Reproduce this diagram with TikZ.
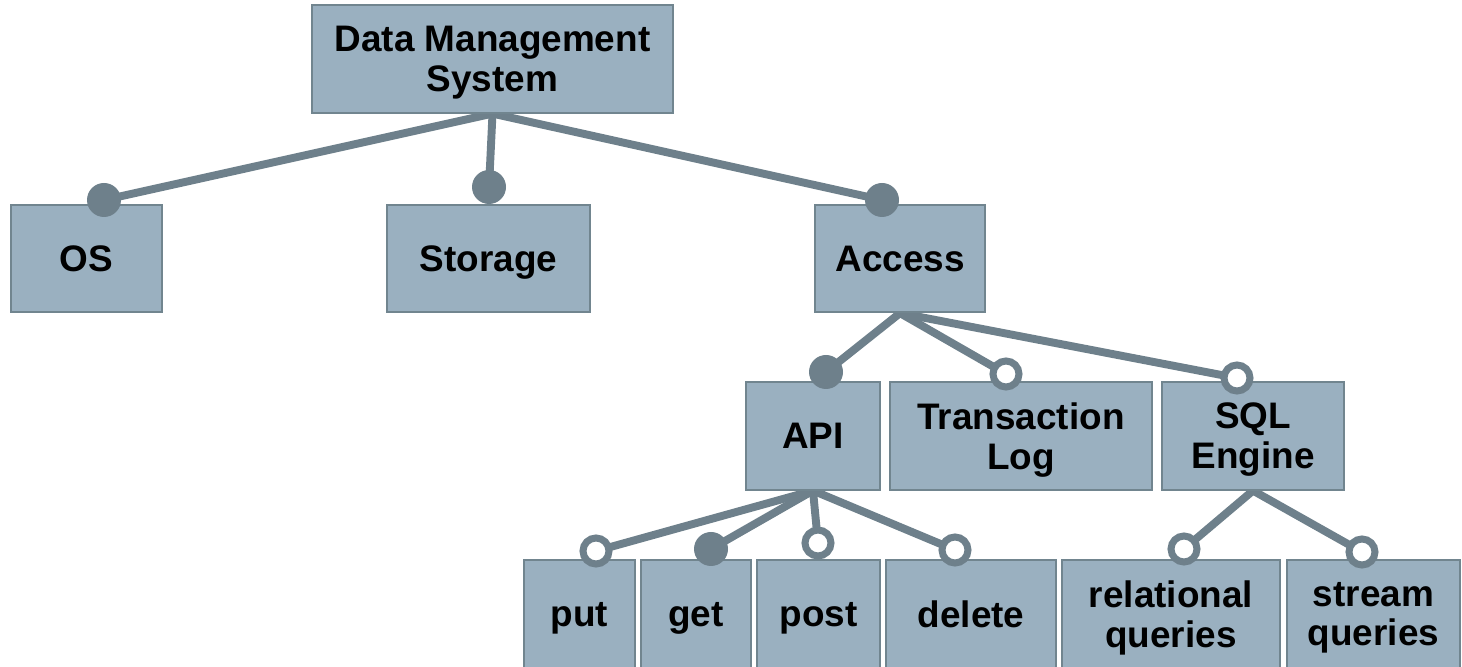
\documentclass[tikz,border=0pt]{standalone}
\usepackage{fontspec}
\setmainfont{Liberation Sans}
\usetikzlibrary{positioning, calc, backgrounds}
\definecolor{featfill}{HTML}{9AB0C0}
\definecolor{featline}{HTML}{71858F}
\definecolor{linkgray}{HTML}{6E808B}
\tikzset{
  feat/.style = {rectangle, draw=featline, line width=1pt, fill=featfill,
                 align=center, inner sep=0pt, minimum height=2.15cm,
                 text depth=0pt,
                 font=\bfseries\fontsize{21}{22.7}\selectfont},
  link/.style = {draw=linkgray, line width=4.5pt},
  mand/.style = {circle, fill=linkgray, inner sep=0pt, minimum size=0.68cm},
  opt/.style  = {circle, draw=linkgray, line width=0.14cm, fill=white,
                 inner sep=0pt, minimum size=0.52cm},
}
\begin{document}
\begin{tikzpicture}
  \useasboundingbox (0,0) rectangle (29.24,13.34);

  % ----- root and first level -----
  \node[feat, minimum width=7.22cm] (dms) at (9.85,12.16) {Data Management\\System};
  \node[feat, minimum width=3.02cm] (os) at (1.73,8.17) {OS};
  \node[feat, minimum width=4.06cm] (storage) at (9.77,8.17) {Storage};
  \node[feat, minimum width=3.40cm] (access) at (18.00,8.17) {Access};

  % ----- below Access -----
  \node[feat, minimum width=2.68cm] (api) at (16.26,4.62) {API};
  \node[feat, minimum width=5.24cm] (txlog) at (20.42,4.62) {Transaction\\Log};
  \node[feat, minimum width=3.64cm] (sql) at (25.06,4.62) {SQL\\Engine};

  % ----- leaves -----
  \node[feat, minimum width=2.22cm] (put) at (11.59,1.06) {put};
  \node[feat, minimum width=2.20cm] (get) at (13.92,1.06) {get};
  \node[feat, minimum width=2.46cm] (post) at (16.37,1.06) {post};
  \node[feat, minimum width=3.40cm] (delete) at (19.42,1.06) {delete};
  \node[feat, minimum width=4.36cm] (relq) at (23.42,1.06) {relational\\queries};
  \node[feat, minimum width=3.46cm] (streamq) at (27.47,1.06) {stream\\queries};

  % ----- mandatory / optional markers -----
  \node[mand] (osdot) at (2.08,9.34) {};
  \node[mand] (storagedot) at (9.78,9.60) {};
  \node[mand] (accessdot) at (17.64,9.34) {};
  \node[mand] (apidot) at (16.52,5.90) {};
  \node[opt] (txlogdot) at (20.12,5.86) {};
  \node[opt] (sqldot) at (24.74,5.78) {};
  \node[opt] (putdot) at (11.92,2.32) {};
  \node[mand] (getdot) at (14.22,2.36) {};
  \node[opt] (postdot) at (16.36,2.48) {};
  \node[opt] (deletedot) at (19.10,2.34) {};
  \node[opt] (relqdot) at (23.68,2.36) {};
  \node[opt] (streamqdot) at (27.24,2.30) {};

  % ----- connectors -----
  \begin{scope}[on background layer]
    \foreach \d in {osdot, storagedot, accessdot}
      {\draw[link] (dms.south) -- (\d.center);}
    \foreach \d in {apidot, txlogdot, sqldot}
      {\draw[link] (access.south) -- (\d.center);}
    \foreach \d in {putdot, getdot, postdot, deletedot}
      {\draw[link] (api.south) -- (\d.center);}
    \foreach \d in {relqdot, streamqdot}
      {\draw[link] (sql.south) -- (\d.center);}
  \end{scope}

\end{tikzpicture}
\end{document}
